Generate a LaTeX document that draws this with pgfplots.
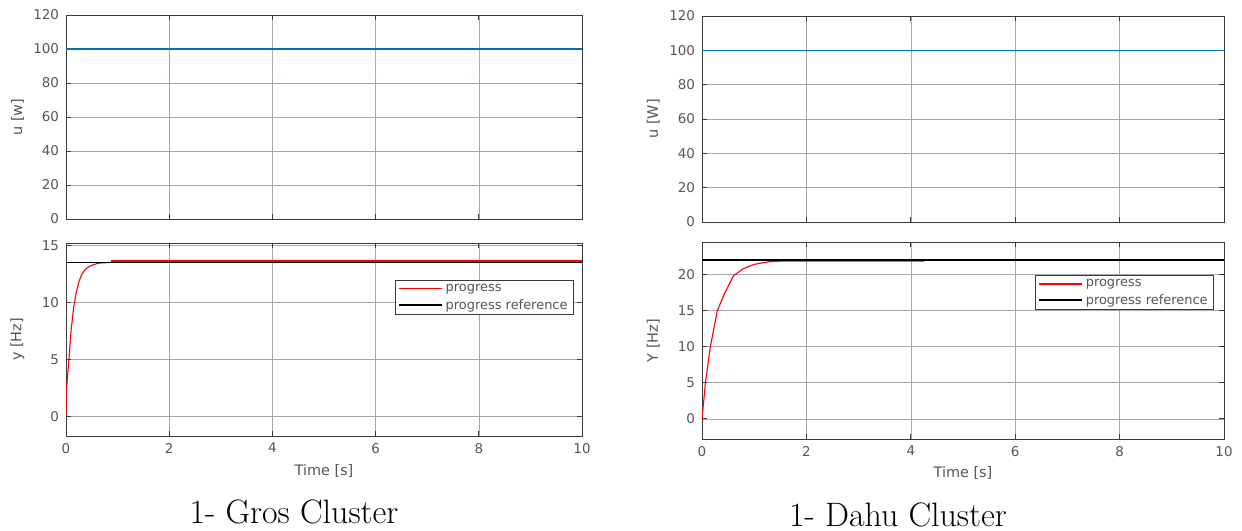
\documentclass[border=0pt]{standalone}
\usepackage{fontspec}
\usepackage{pgfplots}
\pgfplotsset{compat=1.18}
\newfontfamily\djv{DejaVu Sans}
\definecolor{mblue}{rgb}{0,0.447,0.741}
\definecolor{axgray}{HTML}{3A3A3A}
\definecolor{txtgray}{HTML}{555555}
\definecolor{gridgray}{HTML}{A8A8A8}
\pgfplotsset{
  mystyle/.style={
    scale only axis,
    anchor=north west,
    xmin=0, xmax=10,
    xtick={0,2,4,6,8,10},
    grid=major,
    major grid style={color=gridgray, line width=0.6bp},
    axis line style={color=axgray, line width=0.9bp},
    tick style={color=axgray, line width=0.8bp},
    major tick length=5bp,
    tick align=inside,
    /pgf/number format/assume math mode=true,
    tick label style={font=\djv\fontsize{13.5}{15}\selectfont, text=txtgray},
    yticklabel style={xshift=-3.5bp},
    xticklabel style={yshift=-3.5bp},
    label style={font=\djv\fontsize{14.5}{16}\selectfont, text=txtgray},
    legend style={font=\djv\fontsize{13}{15}\selectfont, text=txtgray, draw=axgray, line width=0.9bp, fill=white, inner xsep=3bp, inner ysep=2.5bp, row sep=3bp, legend cell align=left,
      nodes={inner xsep=3bp, inner ysep=1.5bp}},
    legend image code/.code={\draw[#1, line width=1.2bp] (0bp,0bp) -- (43bp,0bp);},
  }
}
\begin{document}
\begin{tikzpicture}[x=1bp,y=1bp]
\useasboundingbox (0bp,0bp) rectangle (1242bp,-531bp);
% ---------- left top ----------
\begin{axis}[mystyle, at={(66bp,-15bp)}, width=516bp, height=204bp,
  ymin=0, ymax=120, ytick={0,20,40,60,80,100,120}, xticklabels={},
  ylabel={u [w]}, y label style={at={(axis description cs:-0.094,0.5)}, anchor=center}]
\addplot[mblue, line width=1.2bp] coordinates {(0,100) (10,100)};
\end{axis}
% ---------- left bottom ----------
\begin{axis}[mystyle, at={(66bp,-243bp)}, width=516bp, height=193bp,
  ymin=-1.72, ymax=15.2, ytick={0,5,10,15},
  ylabel={y [Hz]}, xlabel={Time [s]},
  y label style={at={(axis description cs:-0.094,0.5)}, anchor=center},
  x label style={at={(axis description cs:0.5,-0.181)}, anchor=center},
  legend style={at={(0.9845,0.808)}, anchor=north east}]
\addplot[red, line width=1.1bp] coordinates {
(0,0) (0.01,2.4) (0.05,4.6) (0.1,7.6) (0.15,9.6) (0.2,10.9) (0.25,11.8)
(0.3,12.4) (0.35,12.75) (0.4,13.0) (0.5,13.25) (0.6,13.4) (0.68,13.45) (0.86,13.5)};
\addlegendentry{progress}
\addplot[black, line width=1bp] coordinates {(0,13.5) (10,13.5)};
\addlegendentry{progress reference}
\addplot[red, line width=1.3bp, forget plot] coordinates {(0.87,13.63) (10,13.63)};
\end{axis}
% ---------- right top ----------
\begin{axis}[mystyle, at={(702bp,-16bp)}, width=522bp, height=206bp,
  ymin=0, ymax=120, ytick={0,20,40,60,80,100,120}, xticklabels={},
  ylabel={u [W]}, y label style={at={(axis description cs:-0.093,0.5)}, anchor=center}]
\addplot[mblue, line width=1.2bp] coordinates {(0,100) (10,100)};
\end{axis}
% ---------- right bottom ----------
\begin{axis}[mystyle, at={(702bp,-242bp)}, width=522bp, height=197bp,
  ymin=-2.8, ymax=24.5, ytick={0,5,10,15,20},
  ylabel={Y [Hz]}, xlabel={Time [s]},
  y label style={at={(axis description cs:-0.093,0.5)}, anchor=center},
  x label style={at={(axis description cs:0.5,-0.173)}, anchor=center},
  legend style={at={(0.981,0.832)}, anchor=north east}]
\addplot[red, line width=1.1bp] coordinates {
(0,0) (0.02,1.5) (0.066,5) (0.16,10) (0.29,14.9) (0.42,17.2) (0.6,19.8)
(0.79,20.8) (1.0,21.4) (1.26,21.75) (1.5,21.85) (4.26,21.85)};
\addlegendentry{progress}
\addplot[black, line width=1.1bp] coordinates {(0,22) (10,22)};
\addlegendentry{progress reference}
\end{axis}
% ---------- captions ----------
\node[anchor=base, inner sep=0] at (294bp,-523bp) {\fontsize{34}{40}\selectfont 1- Gros Cluster};
\node[anchor=base, inner sep=0] at (898bp,-526bp) {\fontsize{34}{40}\selectfont 1- Dahu Cluster};
\end{tikzpicture}
\end{document}
